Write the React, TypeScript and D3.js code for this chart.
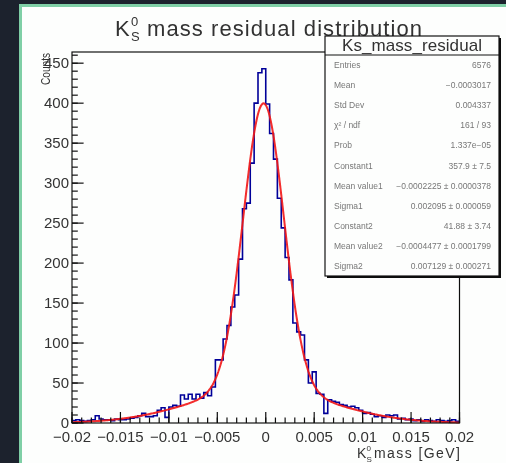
import React from 'react';
import * as d3 from 'd3';

const W = 506;
const H = 463;

// Histogram: 100 bins from -0.02 to 0.02 GeV
const binRange = [-0.02, 0.02];
const binCount = 100;
const binCounts = [
  3, 4, 3, 2, 3, 4, 9, 5, 4, 4,
  3, 5, 4, 4, 5, 6, 7, 9, 12, 8,
  8, 9, 16, 19, 7, 20, 22, 21, 35, 30,
  36, 30, 36, 31, 38, 34, 45, 79, 79, 105,
  122, 145, 160, 205, 268, 275, 325, 400, 438, 443,
  399, 362, 330, 281, 244, 207, 179, 125, 114, 110,
  79, 50, 64, 37, 36, 12, 29, 27, 26, 23,
  22, 20, 21, 19, 16, 12, 13, 11, 8, 9,
  7, 10, 9, 10, 5, 6, 4, 5, 3, 4,
  2, 4, 3, 2, 4, 3, 2, 3, 4, 2,
];

// Double-gaussian fit parameters (from the stats box)
const fitConstants = [357.9, 41.88];
const fitMeans = [-0.0002225, -0.0004477];
const fitSigmas = [0.002095, 0.007129];

const yDomain = [0, 464];

const statLabels = [
  'Entries', 'Mean', 'Std Dev', 'χ² / ndf', 'Prob', 'Constant1',
  'Mean value1', 'Sigma1', 'Constant2', 'Mean value2', 'Sigma2',
];
const statValues = [
  '6576', '−0.0003017', '0.004337', '161 / 93', '1.337e−05', '357.9 ± 7.5',
  '−0.0002225 ± 0.0000378', '0.002095 ± 0.000059', '41.88 ± 3.74',
  '−0.0004477 ± 0.0001799', '0.007129 ± 0.000271',
];

const FONT = "'Liberation Sans', Arial, Helvetica, sans-serif";
const TXT = '#333';

export default function App() {
  const frame = { l: 72, r: 459.5, t: 52, b: 423 };
  const x = d3.scaleLinear().domain(binRange).range([frame.l, frame.r]);
  const y = d3.scaleLinear().domain(yDomain).range([frame.b, frame.t]);

  const binW = (binRange[1] - binRange[0]) / binCount;
  const stepPts: [number, number][] = binCounts.map((c, i) => [binRange[0] + i * binW, c]);
  stepPts.push([binRange[1], binCounts[binCount - 1]]);
  const stepLine = d3
    .line<[number, number]>()
    .x((d) => x(d[0]))
    .y((d) => y(d[1]))
    .curve(d3.curveStepAfter);

  const fit = (v: number) =>
    fitConstants.reduce(
      (s, c, k) => s + c * Math.exp(-0.5 * ((v - fitMeans[k]) / fitSigmas[k]) ** 2),
      0
    );
  const fitXs = d3.range(0, 401).map((k) => binRange[0] + (k / 400) * (binRange[1] - binRange[0]));
  const fitLine = d3
    .line<number>()
    .x((v) => x(v))
    .y((v) => y(fit(v)))
    .curve(d3.curveLinear);

  const xMajor = x.ticks(8);
  const xMinor = x.ticks(40);
  const yMajor = y.ticks(10);
  const yMinor = y.ticks(46);
  const fmt = d3.format('~g');

  const box = { l: 325, r: 499, t: 36, sep: 55, b: 276 };
  const rowH = (box.b - box.sep) / statLabels.length;

  return (
    <svg
      width={W}
      height={H}
      style={{ position: 'absolute', left: 0, top: 0, fontFamily: FONT }}
    >
      <defs>
        <filter id="soft" x="0" y="0" width="1" height="1">
          <feGaussianBlur stdDeviation="0.35" />
        </filter>
      </defs>
      <rect x={0} y={0} width={W} height={H} fill="#1c222d" />
      {/* canvas with green border */}
      <rect x={19} y={4} width={W} height={H} fill="#7fcfa6" />
      <rect x={22} y={7} width={W} height={H} fill="#fdfefd" />

      <g filter="url(#soft)">
        {/* title */}
        <text x={115} y={36} fontSize={22} fill={TXT}>K</text>
        <text x={131} y={26} fontSize={13} fill={TXT}>0</text>
        <text x={131} y={41} fontSize={13} fill={TXT}>S</text>
        <text x={147} y={36} fontSize={22} fill={TXT} textLength={275} lengthAdjust="spacing">
          mass residual distribution
        </text>

        {/* y title */}
        <text
          transform={`translate(50,53) rotate(-90)`}
          textAnchor="end"
          fontSize={12}
          fill={TXT}
          textLength={32}
          lengthAdjust="spacingAndGlyphs"
        >
          Counts
        </text>

        {/* histogram */}
        <path d={stepLine(stepPts) || ''} fill="none" stroke="#000099" strokeWidth={1.6} />
        {/* fit */}
        <path d={fitLine(fitXs) || ''} fill="none" stroke="#f21414" strokeWidth={2} strokeOpacity={0.9} />

        {/* frame */}
        <rect
          x={frame.l}
          y={frame.t}
          width={frame.r - frame.l}
          height={frame.b - frame.t}
          fill="none"
          stroke="#111"
          strokeWidth={1.2}
        />

        {/* x ticks */}
        {xMinor.map((v, i) => (
          <line key={'xm' + i} x1={x(v)} x2={x(v)} y1={frame.b} y2={frame.b - 5.5} stroke="#111" strokeWidth={1.2} />
        ))}
        {xMajor.map((v, i) => (
          <line key={'xM' + i} x1={x(v)} x2={x(v)} y1={frame.b} y2={frame.b - 11} stroke="#111" strokeWidth={1.2} />
        ))}
        {xMajor.map((v, i) => (
          <text key={'xl' + i} x={x(v)} y={442} fontSize={15} textAnchor="middle" fill={TXT}>
            {fmt(v)}
          </text>
        ))}

        {/* y ticks */}
        {yMinor.map((v, i) => (
          <line key={'ym' + i} x1={frame.l} x2={frame.l + 5.8} y1={y(v)} y2={y(v)} stroke="#111" strokeWidth={1.2} />
        ))}
        {yMajor.map((v, i) => (
          <line key={'yM' + i} x1={frame.l} x2={frame.l + 11.6} y1={y(v)} y2={y(v)} stroke="#111" strokeWidth={1.2} />
        ))}
        {yMajor.map((v, i) => (
          <text key={'yl' + i} x={69} y={y(v) + 5} fontSize={15} textAnchor="end" fill={TXT}>
            {fmt(v)}
          </text>
        ))}

        {/* x title */}
        <text x={357} y={458} fontSize={14} fill={TXT}>K</text>
        <text x={366.5} y={451} fontSize={8} fill={TXT}>0</text>
        <text x={366.5} y={462} fontSize={8} fill={TXT}>S</text>
        <text x={374} y={458} fontSize={14} fill={TXT} textLength={86} lengthAdjust="spacing">
          mass [GeV]
        </text>

        {/* stats box */}
        <rect x={box.l + 2} y={box.t + 2} width={box.r - box.l} height={box.b - box.t} fill="#111" />
        <rect
          x={box.l}
          y={box.t}
          width={box.r - box.l}
          height={box.b - box.t}
          fill="#fdfefd"
          stroke="#111"
          strokeWidth={1.2}
        />
        <line x1={box.l} x2={box.r} y1={box.sep} y2={box.sep} stroke="#111" strokeWidth={1.2} />
        <text
          x={(box.l + box.r) / 2}
          y={51}
          fontSize={17}
          textAnchor="middle"
          fill={TXT}
          textLength={140}
          lengthAdjust="spacing"
        >
          Ks_mass_residual
        </text>
        {statLabels.map((lab, i) => (
          <g key={'st' + i}>
            <text x={box.l + 9} y={box.sep + (i + 0.5) * rowH + 3} fontSize={8.5} fill="#777">
              {lab}
            </text>
            <text
              x={box.r - 8}
              y={box.sep + (i + 0.5) * rowH + 3}
              fontSize={8.5}
              textAnchor="end"
              fill="#777"
            >
              {statValues[i]}
            </text>
          </g>
        ))}
      </g>
    </svg>
  );
}
